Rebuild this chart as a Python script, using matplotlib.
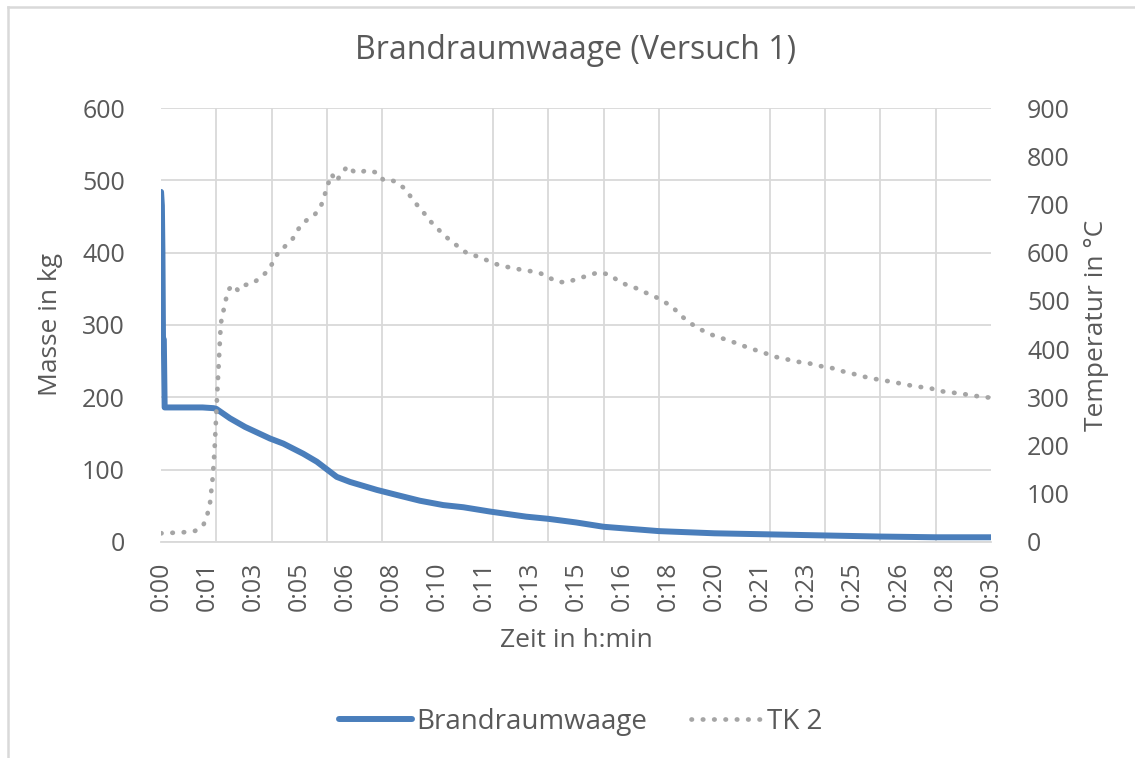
import matplotlib.pyplot as plt
from matplotlib.lines import Line2D

plt.rcParams['font.family'] = ['Open Sans', 'DejaVu Sans']

# Brandraumwaage: Zeit in min, Masse in kg
zeit_masse = [0.0, 0.03, 0.05, 0.07, 0.10, 0.13, 0.5, 1.0, 1.5, 1.9, 2.0,
              2.49, 3.04, 3.94, 4.42, 5.14, 5.63, 6.11, 6.35, 6.83, 7.8,
              8.52, 9.36, 10.2, 10.93, 11.9, 13.2, 14.0, 15.0, 16.0, 17.0,
              18.0, 19.0, 20.0, 22.0, 24.0, 26.0, 28.0, 30.0]
masse = [484, 465, 400, 282, 280, 186, 186, 186, 186, 185, 184,
         171, 159, 143, 136, 122, 111, 97, 90, 83, 72,
         65, 57, 51, 48, 42, 35, 32, 27, 21, 18,
         15, 13.5, 12, 10.5, 9, 7.5, 6.5, 6.5]

# TK 2: Zeit in min, Temperatur in °C
zeit_tk2 = [0.0, 0.8, 1.23, 1.53, 1.67, 1.77, 1.87, 1.93, 1.98, 2.04, 2.11,
            2.16, 2.25, 2.34, 2.43, 2.61, 2.79, 3.04, 3.31, 3.58, 3.82,
            4.04, 4.24, 4.46, 4.75, 4.9, 5.12, 5.35, 5.57, 5.77, 5.89,
            6.01, 6.17, 6.32, 6.55, 6.75, 6.95, 7.17, 7.41, 7.61, 7.85,
            8.03, 8.25, 8.52, 8.76, 9.0, 9.24, 9.48, 9.72, 9.96, 10.2,
            10.48, 10.78, 11.1, 11.47, 11.83, 12.13, 12.37, 12.73, 13.07, 13.43,
            13.72, 14.03, 14.36, 14.72, 15.08, 15.44, 15.78, 16.2, 16.49, 16.83,
            17.19, 17.52, 17.85, 18.13, 18.48, 18.76, 19.06, 19.36, 19.7, 20.02,
            20.41, 20.76, 21.13, 21.49, 21.86, 22.2, 22.61, 22.97, 23.39, 23.8,
            24.18, 24.56, 24.94, 25.32, 25.71, 26.13, 26.53, 26.95, 27.37, 27.8,
            28.15, 28.58, 28.99, 29.42, 30.0]
tk2 = [18, 20, 23, 35, 56, 81, 135, 187, 246, 319, 398,
       453, 478, 502, 523, 533, 521, 533, 536, 548, 560,
       579, 601, 612, 628, 644, 661, 671, 680, 695, 715,
       738, 763, 747, 766, 780, 769, 765, 771, 769, 765,
       751, 752, 746, 735, 718, 700, 684, 666, 652, 638,
       624, 611, 597, 592, 583, 576, 572, 568, 564, 561,
       557, 548, 539, 539, 547, 552, 559, 555, 543, 533,
       526, 517, 509, 500, 488, 471, 457, 445, 435, 427,
       420, 413, 405, 398, 391, 384, 379, 374, 371, 365,
       362, 355, 350, 344, 339, 335, 331, 326, 322, 319,
       313, 310, 307, 303, 299]

x_labels = ["0:00", "0:01", "0:03", "0:05", "0:06", "0:08", "0:10", "0:11",
            "0:13", "0:15", "0:16", "0:18", "0:20", "0:21", "0:23", "0:25",
            "0:26", "0:28", "0:30"]

text_col = "#595959"
grid_col = "#D9D9D9"
blue = "#4A7EBB"
grey = "#A5A5A5"

fig = plt.figure(figsize=(11.35, 7.58), dpi=100)
ax = fig.add_axes([0.1419, 0.2850, 0.7312, 0.5725])
ax2 = ax.twinx()

ax.plot(zeit_masse, masse, color=blue, linewidth=4.3, label="Brandraumwaage",
        solid_capstyle="round", solid_joinstyle="round")
ax2.plot(zeit_tk2, tk2, color=grey, linewidth=3.4, linestyle=(0, (0.1, 2.3)),
         dash_capstyle="round", label="TK 2")

ax.set_xlim(0, 30)
ax.set_ylim(0, 600)
ax2.set_ylim(0, 900)
ax.set_yticks(range(0, 601, 100))
ax2.set_yticks(range(0, 901, 100))

# labels every 100 s, gridlines every 2 min
ax.set_xticks([i * 100 / 60 for i in range(len(x_labels))])
ax.set_xticklabels(x_labels, rotation=90)
ax.set_xticks(range(0, 31, 2), minor=True)
ax.grid(True, which="minor", axis="x", color=grid_col, linewidth=1.3)
ax.grid(True, which="major", axis="y", color=grid_col, linewidth=1.3)
ax.set_axisbelow(True)

for a in (ax, ax2):
    for s in a.spines.values():
        s.set_visible(False)
    a.tick_params(which="both", length=0, labelsize=18, labelcolor=text_col)
ax.spines["bottom"].set_visible(True)
ax.spines["bottom"].set_color(grid_col)
ax.spines["bottom"].set_linewidth(1.3)
ax.tick_params(axis="y", pad=26)
ax2.tick_params(axis="y", pad=26)
ax.tick_params(axis="x", pad=14)

ax.set_ylabel("Masse in kg", fontsize=19, color=text_col, labelpad=14)
ax2.set_ylabel("Temperatur in °C", fontsize=19, color=text_col, labelpad=10)
ax.set_xlabel("Zeit in h:min", fontsize=19, color=text_col, labelpad=12)
fig.suptitle("Brandraumwaage (Versuch 1)", fontsize=23, color=text_col,
             x=0.507, y=0.955)

h1, l1 = ax.get_legend_handles_labels()
h2, l2 = ax2.get_legend_handles_labels()
fig.legend(h1 + h2, l1 + l2, loc="center", bbox_to_anchor=(0.512, 0.048),
           ncol=2, frameon=False, fontsize=20, labelcolor=text_col,
           handlelength=2.6, handletextpad=0.15, columnspacing=1.6)

# thin frame at top and left like the chart area border
fig.add_artist(Line2D([8 / 1135, 8 / 1135], [0, 1 - 7 / 758], color=grid_col, linewidth=1.8))
fig.add_artist(Line2D([8 / 1135, 1], [1 - 7 / 758, 1 - 7 / 758], color=grid_col, linewidth=1.8))

fig.savefig("out.png", dpi=100)
